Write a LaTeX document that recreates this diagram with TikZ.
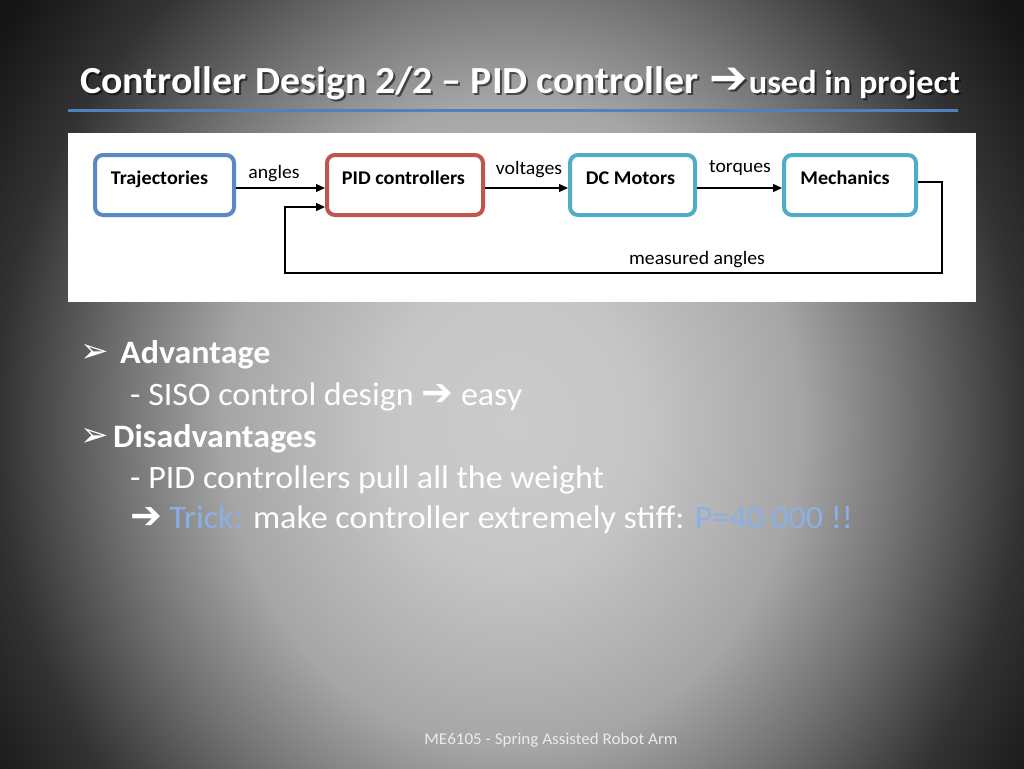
\documentclass[tikz,border=0pt]{standalone}
\usepackage{fontspec}
\setmainfont{Carlito}[FakeStretch=1.04]
\newfontfamily\djv{DejaVu Sans}
\newfontfamily\djvb{DejaVu Sans Bold}
\usetikzlibrary{arrows.meta}
\definecolor{s0}{HTML}{CBCBCB}
\definecolor{s1}{HTML}{C6C6C6}
\definecolor{s2}{HTML}{A6A6A6}
\definecolor{s3}{HTML}{747474}
\definecolor{s4}{HTML}{333333}
\definecolor{s5}{HTML}{161616}
\definecolor{bblue}{HTML}{5A88C2}
\definecolor{bred}{HTML}{BF5450}
\definecolor{bteal}{HTML}{4FAEC6}
\definecolor{tline}{HTML}{4F81BD}
\definecolor{trick}{HTML}{8AB0E6}
\pgfdeclareradialshading{bgshade}{\pgfpoint{0bp}{0bp}}{color(0bp)=(s0); color(6bp)=(s1); color(14bp)=(s2); color(19bp)=(s3); color(25bp)=(s4); color(30bp)=(s5); color(50bp)=(s5)}
\tikzset{
  blk/.style={rounded corners=8pt, line width=4pt, fill=white, minimum width=139pt, minimum height=60pt,
    font=\fontsize{19.4}{21}\selectfont\bfseries, text height=13pt, text depth=15pt, inner sep=0pt},
  arr/.style={line width=1.3pt, -{Triangle[length=9pt,width=8pt]}},
  lbl/.style={font=\fontsize{19}{21}\selectfont, inner sep=0pt},
  body/.style={font=\fontsize{32.7}{36}\selectfont, text=white, anchor=base west, inner sep=0pt},
  bodyb/.style={body, font=\fontsize{32.7}{36}\selectfont\bfseries},
  bul/.style={font=\djv\fontsize{34}{36}\selectfont, text=white, anchor=base west, inner sep=0pt},
  ttl/.style={anchor=base west, inner sep=0pt, font=\fontsize{38.3}{42}\selectfont\bfseries},
}
\newcommand{\bigarr}[1]{{\djvb\fontsize{#1}{#1}\selectfont ➔}}
\newcommand{\ttltext}{Controller Design 2/2 – PID controller \hspace{2pt}\bigarr{46}\hspace{1pt}{\fontsize{33}{36}\selectfont used in project}}
\begin{document}
\begin{tikzpicture}[x=1pt,y=-1pt]
\useasboundingbox (0,0) rectangle (1024,768);
\shade[shading=bgshade] (0,-150) rectangle (1024,1000);
% title
\node[ttl, text=black, opacity=0.55] (tsh) at (82,95) {\ttltext};
\node[ttl, text=white] (title) at (80,93) {\ttltext};
\draw[tline, line width=3pt] (68,110) -- (958,110);
% diagram panel
\fill[white] (68,133) rectangle (976,302);
\node[blk, draw=bblue] (traj) at (164.5,185) {Trajectories\hspace*{10pt}};
\node[blk, draw=bred, minimum width=156pt] (pid) at (405,185) {PID controllers\hspace*{3pt}};
\node[blk, draw=bteal, minimum width=125pt] (dcm) at (632.5,185) {DC Motors\hspace*{4pt}};
\node[blk, draw=bteal, minimum width=132pt] (mech) at (850,185) {Mechanics\hspace*{10pt}};
\coordinate (fbR) at (942,273);
\coordinate (fbL) at (285,273);
\draw[arr] ([yshift=-3pt]traj.east) -- ([yshift=-3pt]pid.west);
\draw[arr] ([yshift=-3pt]pid.east) -- ([yshift=-3pt]dcm.west);
\draw[arr] ([yshift=-3pt]dcm.east) -- ([yshift=-3pt]mech.west);
\draw[arr] ([yshift=3pt]mech.east) -| (fbR) -- (fbL) |- ([yshift=-22pt]pid.west);
\node[lbl] (la) at (274,174) {angles};
\node[lbl] (lv) at (529,170) {voltages};
\node[lbl] (lt) at (740,168) {torques};
\node[lbl] (lm) at (697,260) {measured angles};
% bullets
\node[bul] (b1) at (80,362) {➢};
\node[bodyb] (t1) at (120,363) {Advantage};
\node[body] (t2) at (130,405) {- SISO control design \bigarr{38} easy};
\node[bul] (b2) at (80,446) {➢};
\node[bodyb] (t3) at (113,447) {Disadvantages};
\node[body] (t4) at (130,488) {- PID controllers pull all the weight};
\node[body] (t5) at (130,528) {\bigarr{38} \textcolor{trick}{Trick:} make controller extremely stiff: \textcolor{trick}{P=40 000 !!}};
% footer
\node[anchor=base, inner sep=0pt, text=white!92!black, font=\fontsize{16.4}{18}\selectfont] (foot) at (551,744) {ME6105 - Spring Assisted Robot Arm};
\end{tikzpicture}
\end{document}
